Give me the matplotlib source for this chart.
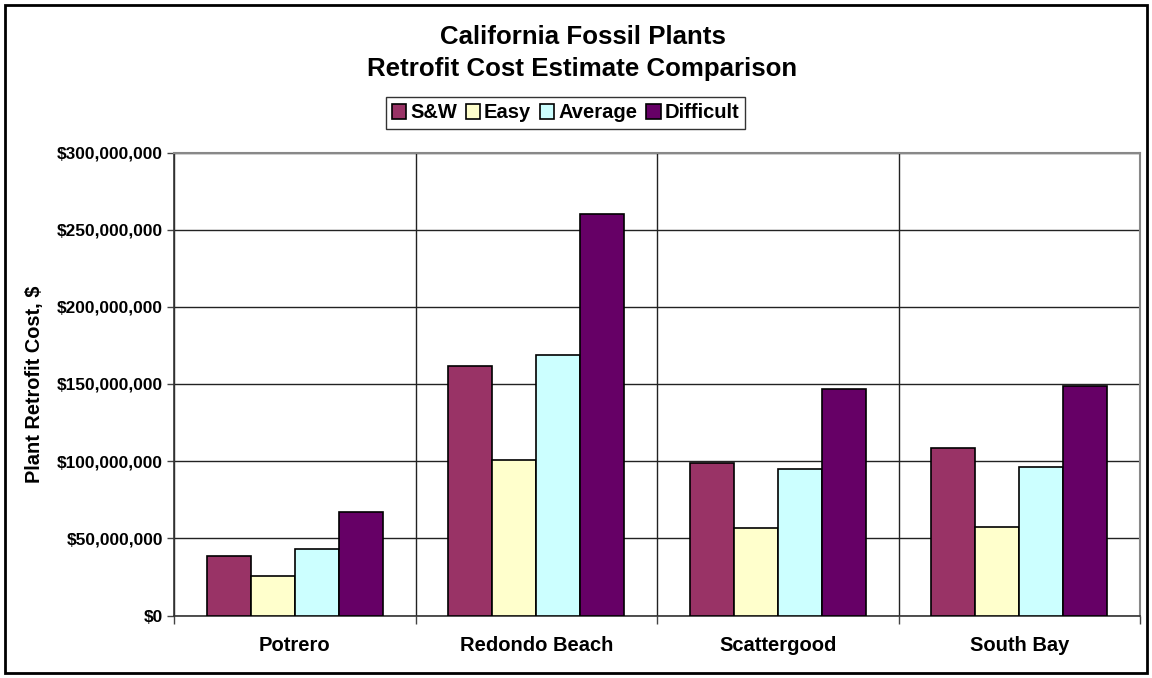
import numpy as np
import matplotlib
matplotlib.use('Agg')
import matplotlib.pyplot as plt
from matplotlib.ticker import FuncFormatter, FixedLocator
from matplotlib.patches import Rectangle

plt.rcParams['font.family'] = ['Liberation Sans', 'DejaVu Sans']

# data
plants = ['Potrero', 'Redondo Beach', 'Scattergood', 'South Bay']
series_names = ['S&W', 'Easy', 'Average', 'Difficult']
sw = [38.6e6, 161.4e6, 98.6e6, 108.4e6]
easy = [25.8e6, 101.0e6, 56.8e6, 57.6e6]
average = [43.4e6, 168.5e6, 94.7e6, 96.0e6]
difficult = [67.0e6, 260.3e6, 146.6e6, 148.5e6]
colors = ['#993366', '#FFFFCC', '#CCFFFF', '#660066']

fig = plt.figure(figsize=(11.52, 6.78), dpi=100)
ax = fig.add_axes([174 / 1152, 1 - 615.5 / 678, 966 / 1152, 463 / 678])

# outer chart frame
fig.patches.append(Rectangle((5 / 1152, 5 / 678), 1142 / 1152, 668 / 678,
                             transform=fig.transFigure, fill=False,
                             edgecolor='black', linewidth=2))

x = np.arange(len(plants))
w = 1 / 5.5
values = [sw, easy, average, difficult]
for i, (vals, c, name) in enumerate(zip(values, colors, series_names)):
    ax.bar(x - 1.5 * w + i * w, vals, width=w, color=c, edgecolor='black',
           linewidth=1.2, label=name, zorder=3)

ax.set_xlim(-0.5, len(plants) - 0.5)
ax.set_ylim(0, 300e6)
ax.yaxis.set_major_locator(FixedLocator(np.arange(0, 300e6 + 1, 50e6)))
ax.yaxis.set_major_formatter(FuncFormatter(lambda v, p: '${:,.0f}'.format(v)))
ax.set_xticks(x)
ax.set_xticklabels(plants, fontsize=14.5, fontweight='bold')
ax.set_xticks(np.arange(-0.5, len(plants)), minor=True)
ax.tick_params(axis='x', which='major', length=0, pad=15)
ax.tick_params(axis='x', which='minor', length=6, width=1, color='#444444')
ax.tick_params(axis='y', length=5, width=1, pad=3, labelsize=12.4, color='#444444')
for lab in ax.get_yticklabels():
    lab.set_fontweight('bold')

ax.grid(True, axis='y', color='#222222', linewidth=1, zorder=0)
ax.grid(True, axis='x', which='minor', color='#222222', linewidth=1, zorder=0)
for s in ['top', 'right']:
    ax.spines[s].set_color('#888888')
    ax.spines[s].set_linewidth(1.5)
for s in ['left', 'bottom']:
    ax.spines[s].set_color('#333333')
    ax.spines[s].set_linewidth(1.2)

ax.set_ylabel('Plant Retrofit Cost, $', fontsize=14.4, fontweight='bold', labelpad=9)

fig.text(582.5 / 1152, 1 - 37 / 678, 'California Fossil Plants', ha='center', va='center',
         fontsize=18.6, fontweight='bold')
fig.text(582.5 / 1152, 1 - 69 / 678, 'Retrofit Cost Estimate Comparison', ha='center',
         va='center', fontsize=18.6, fontweight='bold')

leg = fig.legend(loc='center', bbox_to_anchor=(565.5 / 1152, 1 - 113 / 678), ncol=4,
                 frameon=True, fancybox=False, edgecolor='black', handlelength=0.7,
                 handleheight=0.7, handletextpad=0.2, columnspacing=0.45,
                 borderpad=0.3, prop={'weight': 'bold', 'size': 14.5})
leg.get_frame().set_linewidth(1)

fig.savefig('out.png', dpi=100)
